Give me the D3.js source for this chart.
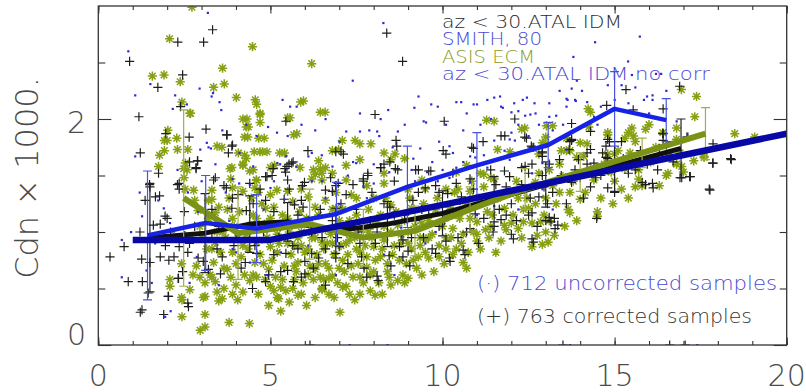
<!DOCTYPE html>
<html>
<head>
<meta charset="utf-8">
<script src="https://cdn.jsdelivr.net/npm/d3@7"></script>
<style>
  body { margin: 0; background: #fff; }
  svg { display: block; }
  text { font-family: "DejaVu Sans", "Liberation Sans", sans-serif; font-weight: 200; }
</style>
</head>
<body>
<svg id="chart" width="806" height="392"></svg>
<script>
// Drag coefficient (Cdn x 1000) against wind speed: scatter of samples and binned means.

// Black "+" : corrected samples, az < 30, ATAL IDM
const corrSamples = [
  [0.91,2.51],[1.18,2.02],[1.22,1.70],[1.73,2.28],[1.96,1.87],[1.75,1.52],[2.31,2.68],[2.45,2.39],[2.39,2.11],[2.64,1.84],
  [3.06,2.68],[3.32,2.79],[3.13,1.91],[3.74,1.86],[3.88,1.76],[3.78,1.70],[2.89,1.63],[2.84,1.56],[1.49,1.42],[2.35,1.43],
  [3.35,1.46],[3.72,1.39],[4.9,1.49],[5.45,1.98],[5.62,1.61],[5.48,1.58],
  [8.38,2.76],[8.84,2.51],[8.04,2.04],[10.05,1.98],[6.09,1.72],[8.65,1.81],[8.67,1.76],[10.02,1.72],[10.1,1.69],[10.85,1.75],
  [11.18,1.80],[11.81,1.85],[12.1,2.0],[12.44,1.83],[12.65,1.75],[12.9,1.71],[13.75,1.81],[13.68,1.73],[5.54,1.60],[8.21,1.57],
  [8.3,1.6],[8.63,1.56],[9.3,1.55],[9.6,1.54],[7.83,1.52],[7.7,1.47],[7.05,1.71],[7.12,1.69],[11.8,1.54],[12.3,1.57],
  [12.5,1.52],[12.9,1.50],[10.8,1.47],[6.9,1.41],[5.99,1.44],[5.08,1.56],[5.44,1.53],
  [15.33,2.26],[14.77,2.12],[15.54,2.08],[16.41,2.09],[16.89,2.29],[12.39,1.84],[12.58,1.76],[13.75,1.96],[13.7,1.80],[14.3,1.73],
  [14.85,1.80],[14.8,1.65],[16.41,1.87],[16.41,1.81],[17.13,1.84],[17.86,1.78],[17.86,1.61],[18.39,1.64],[17.77,1.37],[16.12,1.39],
  [15.9,1.42],[17.18,1.49],[16.95,1.48],[16.5,1.77],[13.4,1.64],[12.9,1.70],[12.6,1.6],[14.2,1.6],[14.6,1.5],[14.0,1.48],
  [1.5,1.40],[1.36,1.28],[1.66,1.31],[1.94,1.14],[2.0,1.12],[1.6,1.06],[1.21,1.0],[0.75,0.87],[0.34,0.78],[1.26,0.76],
  [1.8,0.78],[1.5,0.73],[2.05,0.75],[2.2,0.78],[2.32,0.59],[0.87,0.56],[1.28,0.56],[1.45,0.46],[2.03,0.43],[2.6,0.37],
  [2.3,1.42],[2.35,1.38],[2.65,1.62],[2.88,1.63],[2.84,1.57],[2.6,0.82],[2.35,0.87],[2.9,0.77],[2.65,0.90],[3.05,0.74],[3.2,0.67],
  [1.22,0.29],[1.27,0.31],[1.9,0.27],[2.04,0.43],[2.62,0.34],[2.33,0.59],[1.8,1.07],[1.78,1.32],
  [3.73,1.86],[3.9,1.77],[5.66,1.62],[5.42,1.56],[3.4,1.48],[4.86,1.49],[5.05,1.50],[5.5,1.46],[5.93,1.41],[3.65,1.41],
  [4.06,1.33],[4.4,1.43],[4.86,1.28],[5.4,1.29],[5.7,1.24],[5.95,1.22],[3.88,1.21],[4.3,1.19],[6.6,1.37],[5.65,0.88],
  [5.45,0.81],[5.1,0.80],[4.6,0.81],[4.27,0.73],[3.94,0.88],[3.45,0.85],[5.5,0.66],[6.0,0.63],[3.55,0.63],[4.86,0.56],
  [5.67,0.56],[4.48,0.50],[6.2,0.81],[6.4,0.77],[6.0,0.74],
  [6.9,1.71],[8.47,1.62],[8.2,1.57],[8.7,1.55],[9.22,1.55],[9.66,1.54],[7.83,1.50],[7.7,1.45],[6.97,1.43],[9.5,1.39],
  [9.8,1.41],[8.47,1.22],[9.14,1.28],[6.8,1.36],[7.2,1.33],[8.8,0.98],[8.85,0.93],[8.75,0.87],[9.0,0.83],[9.7,0.85],
  [7.0,0.87],[7.6,0.90],[7.72,0.68],[8.1,0.61],[6.9,0.77],[8.45,0.79],[9.22,1.10],
  [11.7,1.85],[10.9,1.74],[12.6,1.75],[12.9,1.67],[12.4,1.58],[13.1,1.60],[11.95,1.49],[11.55,1.42],[10.4,1.43],[10.15,1.34],
  [10.55,1.31],[12.0,1.25],[12.8,1.31],[13.05,1.25],[13.25,1.12],[11.2,1.12],[11.5,1.05],[11.7,1.11],[12.5,1.15],[12.0,0.98],
  [12.6,0.94],[13.15,1.09],[10.8,1.03],[10.7,1.0],[10.2,0.77],[10.6,0.84],[10.1,0.92],[10.95,1.16],
  [14.3,1.89],[14.8,1.82],[13.75,1.82],[15.2,1.80],[14.2,1.70],[14.75,1.76],[14.75,1.66],[15.75,1.72],[13.95,1.64],[14.4,1.61],
  [14.8,1.55],[15.4,1.52],[13.75,1.44],[14.3,1.40],[14.8,1.39],[15.8,1.44],[16.1,1.43],[13.35,1.06],[16.4,1.87],[16.3,1.74],
  [16.9,1.48],[17.2,1.49],[17.85,1.61],[18.37,1.65],[17.75,1.38],[17.1,1.84],
  [11.47,1.0],[12.06,0.94],[10.22,0.74],[10.65,0.80],[9.8,0.81],[8.85,0.78],[8.13,0.57],[7.8,0.60],[5.3,0.65],[5.9,0.60],
  [6.6,0.53],[13.0,1.10],[12.64,0.91],[13.27,1.03],[14.48,1.12],[11.85,1.15],[12.6,1.17],[13.1,1.13],
  [6.15,0.0],[13.5,0.0],[16.6,0.0],[17.05,0.0],
  [3.5,1.05],[4.0,0.95],[4.8,1.0],[5.3,1.05],[6.2,1.0],[6.5,0.95],[7.3,1.05],[7.9,1.1],[8.6,1.15],[9.4,1.2],
  [9.9,1.05],[4.5,1.25],[5.8,1.15],[7.5,1.2],[8.1,1.0],[6.8,1.1],[3.3,0.95],[9.1,0.95],
  [3.3,1.2],[3.6,0.78],[3.9,1.3],[4.15,0.68],[4.35,1.05],[4.55,0.88],[4.7,1.38],[4.95,0.62],[5.1,1.18],[5.25,0.95],
  [5.55,1.38],[5.8,0.85],[5.9,1.28],[6.1,1.1],[6.25,0.68],[6.45,1.2],[6.6,0.85],[6.75,1.48],[6.95,0.95],[7.05,1.25],
  [7.25,0.72],[7.4,1.42],[7.55,1.0],[7.65,0.78],[7.95,1.35],[8.05,0.9],[8.3,1.25],[8.5,0.7],[8.6,1.45],[8.9,1.15],
  [9.05,0.7],[9.3,1.35],[9.45,0.95],[9.6,1.2],[9.9,1.35],[10.05,1.1],[10.3,1.52],[10.45,0.95],[10.65,1.2],[10.9,1.38],
  [11.05,0.9],[11.3,1.3],[11.4,1.55],[11.65,1.2],[11.85,1.4],[12.15,1.1],[12.3,1.42],[12.55,1.3],[12.75,1.05],[12.95,1.4],
  [13.2,1.35],[13.45,1.5],[13.6,1.25],[13.85,1.55],[14.1,1.3],[14.45,1.48],[14.65,1.7],[15.0,1.35],[15.25,1.65],[15.6,1.55],
  [15.95,1.6],[16.25,1.55],[16.7,1.62],[2.1,1.0],[2.5,1.18],[2.8,1.05],[1.95,0.88],[2.45,0.65]
];

// Olive "*" : ASIS ECM samples
const ecmSamples = [
  [2.07,2.71],[2.72,2.99],[4.48,2.64],[1.57,2.38],[1.91,2.39],[2.38,2.33],[3.61,2.45],[3.35,2.28],[3.66,2.31],[4.01,2.19],
  [2.43,2.15],[2.68,2.05],[4.56,2.17],[4.6,2.13],[4.70,2.05],[4.32,2.0],[4.36,1.93],[4.70,1.97],[2.02,1.90],[1.92,1.81],
  [2.28,1.83],[1.78,1.68],[4.34,1.84],[4.82,1.83],[3.59,1.75],[4.25,1.68],[4.70,1.71],[4.9,1.71],[5.41,1.70],[5.57,2.01],
  [5.77,1.87],[2.53,1.61],[2.48,1.56],[3.83,1.56],[4.2,1.59],[4.5,1.55],[2.77,1.37],[3.3,1.37],[4.59,1.46],[5.19,1.37],[4.65,1.35],
  [6.2,2.49],[5.96,2.16],[6.59,2.06],[7.46,1.81],[7.92,1.78],[6.98,1.73],[8.62,1.69],[11.28,1.99],[11.5,1.98],[12.39,1.92],
  [13.02,1.94],[11.96,1.71],[11.6,1.73],[10.7,1.59],[6.49,1.52],[6.25,1.55],[5.86,1.57],[5.0,1.57],[7.2,1.59],[7.6,1.64],
  [8.3,1.52],[8.9,1.65],[9.4,1.46],[10.45,1.38],[11.1,1.52],[11.4,1.48],[13.6,1.83],[13.7,1.72],[12.8,1.69],[13.9,1.66],
  [16.94,2.26],[17.38,2.20],[17.33,2.02],[14.23,2.09],[14.8,1.88],[15.4,1.88],[15.6,1.80],[15.9,1.91],[16.4,1.88],[16.8,1.82],
  [18.49,1.87],[19.07,1.84],[17.6,1.66],[17.3,1.63],[16.5,1.50],[17.0,1.53],[15.7,1.47],[16.3,1.41],[15.6,1.40],[12.3,1.91],
  [13.2,1.94],[13.0,1.78],[13.6,1.72],[14.1,1.67],[14.2,1.78],[14.8,1.69],[15.1,1.72],[14.9,1.53],[15.3,1.56],
  [2.66,2.05],[2.0,1.81],[1.92,1.72],[2.3,1.73],[2.6,1.73],[1.75,1.58],[2.58,1.55],[2.49,1.48],[2.52,1.38],[2.8,1.28],
  [2.9,1.19],[3.2,1.28],[2.08,0.58],[2.08,0.52],[2.42,0.42],[2.66,0.49],[3.1,0.55],[3.1,0.43],[2.85,0.70],[2.42,0.72],[3.3,0.85],
  [2.43,0.40],[2.43,0.25],[2.96,0.13],[3.1,0.16],[3.1,0.27],[3.8,0.20],[4.39,0.19],[3.6,0.41],[3.05,0.42],[5.24,0.41],
  [4.7,2.04],[5.88,2.15],[4.2,2.0],[4.3,1.93],[5.5,2.01],[5.68,1.86],[6.45,2.06],[4.25,1.84],[4.66,1.83],[3.45,1.76],
  [4.07,1.70],[4.53,1.71],[4.77,1.71],[5.27,1.70],[4.3,1.65],[3.88,1.57],[4.2,1.60],[5.12,1.59],[6.4,1.63],[6.3,1.51],
  [4.4,1.54],[4.6,1.46],[3.85,1.47],[5.9,1.38],[6.2,1.47],[6.45,1.56],[3.3,1.29],[3.9,1.39],[4.2,1.36],[4.55,1.39],
  [5.0,1.33],[5.5,1.36],[6.1,1.31],[6.3,1.22],[3.4,1.17],[4.86,1.21],[3.4,0.91],[3.9,0.82],[4.2,0.88],[4.6,0.91],
  [5.0,0.87],[5.7,0.88],[6.1,0.85],[6.5,0.91],[3.35,0.73],[3.75,0.67],[4.55,0.73],[4.95,0.67],[5.8,0.73],[6.3,0.67],
  [3.4,0.56],[4.0,0.53],[4.2,0.47],[5.0,0.52],[5.2,0.42],[5.9,0.45],[6.5,0.50],[3.5,0.39],[4.4,0.57],[5.7,0.58],[6.25,0.58],
  [7.09,1.81],[7.6,1.78],[6.8,1.72],[8.3,1.70],[8.5,1.64],[6.6,1.57],[6.8,1.52],[6.5,1.46],[7.2,1.46],[7.8,1.41],
  [8.3,1.43],[9.0,1.38],[9.5,1.38],[7.35,1.33],[8.0,1.30],[8.5,1.24],[9.1,1.21],[6.9,1.21],[7.5,1.15],[6.8,0.90],
  [7.3,0.93],[8.0,0.87],[8.3,0.93],[9.0,0.90],[9.5,0.93],[9.3,0.78],[9.6,0.77],[6.6,0.72],[7.1,0.75],[7.8,0.69],
  [8.4,0.72],[8.85,0.62],[6.8,0.61],[7.2,0.52],[7.9,0.48],[6.5,0.50],[6.7,0.59],
  [13.0,1.84],[12.9,1.79],[10.4,1.53],[11.2,1.51],[11.5,1.47],[12.7,1.44],[13.2,1.41],[10.1,1.38],[10.8,1.36],[12.2,1.30],
  [11.3,1.18],[11.8,1.21],[12.5,1.21],[13.0,1.30],[10.1,1.15],[10.3,1.03],[11.0,1.09],[11.25,1.02],[11.8,1.06],[12.35,1.09],
  [12.85,1.09],[13.0,1.0],[11.0,0.92],[12.75,0.97],[10.1,0.85],[10.6,0.73],
  [14.3,2.06],[16.0,1.95],[15.5,1.92],[14.25,1.93],[13.45,1.72],[14.0,1.79],[14.8,1.86],[15.3,1.83],[15.55,1.85],[15.0,1.69],
  [14.1,1.52],[13.5,1.49],[14.4,1.46],[15.0,1.45],[15.2,1.38],[13.7,1.35],[14.0,1.29],[13.65,1.20],[14.5,1.18],[16.55,1.52],[15.8,1.41],
  [16.8,1.92],[17.6,1.67],[16.8,1.60],[16.95,1.58],
  [7.02,0.29],[8.04,0.44],[9.0,0.59],[10.7,0.68],[8.5,0.53],[5.8,0.44],[6.5,0.49],[7.1,0.51],[5.3,0.51],[12.9,0.89],
  [12.6,0.87],[13.07,0.91],[13.7,1.17],[14.5,1.14],[12.2,1.03],[11.85,1.02],[13.25,0.97],
  [3.6,1.0],[4.4,1.05],[5.2,0.98],[5.9,1.0],[6.6,1.02],[7.2,1.0],[7.9,1.05],[8.7,1.06],[9.4,1.08],[3.9,1.12],
  [5.5,1.12],[7.0,1.1],[8.2,1.15],[9.8,1.2],[4.9,0.95],[6.3,0.95],[7.6,0.82],[8.8,0.98],
  [3.2,1.12],[3.5,1.22],[3.7,0.95],[3.8,1.3],[3.95,1.05],[4.1,1.18],[4.15,0.78],[4.3,0.98],[4.45,1.3],[4.5,0.62],
  [4.6,1.12],[4.7,0.8],[4.75,1.25],[4.85,0.58],[4.9,1.08],[5.05,0.75],[5.1,1.22],[5.15,0.6],[5.25,0.9],[5.35,1.15],
  [5.4,0.7],[5.45,0.48],[5.55,1.0],[5.6,0.8],[5.65,1.27],[5.75,0.65],[5.8,0.95],[5.85,1.18],[5.95,0.55],[6.0,0.82],
  [6.05,1.12],[6.15,0.7],[6.2,0.95],[6.35,0.8],[6.4,1.15],[6.45,0.6],[6.55,0.85],[6.6,1.28],[6.7,0.68],[6.75,0.98],
  [6.85,0.8],[6.9,1.35],[6.95,0.55],[7.05,0.88],[7.1,1.2],[7.15,0.65],[7.25,0.8],[7.3,1.1],[7.4,0.6],[7.45,0.95],
  [7.5,1.3],[7.55,0.72],[7.65,1.02],[7.7,0.55],[7.75,0.88],[7.85,1.2],[7.9,0.62],[7.95,0.95],[8.05,0.75],[8.1,1.08],
  [8.15,0.55],[8.25,0.85],[8.35,1.3],[8.4,0.65],[8.5,1.0],[8.55,0.8],[8.65,1.18],[8.7,0.57],[8.8,0.9],[8.9,1.1],
  [8.95,0.72],[9.05,1.3],[9.1,0.85],[9.2,1.05],[9.25,0.68],[9.35,0.95],[9.45,1.25],[9.5,0.82],[9.6,1.1],[9.7,0.98],
  [9.75,0.65],[9.85,1.3],[9.9,0.88],[10.0,1.05],[10.05,0.72],[10.2,1.22],[10.25,0.95],[10.35,1.35],[10.4,0.85],[10.5,1.12],
  [10.6,0.98],[10.7,1.25],[10.75,0.82],[10.85,1.45],[10.9,1.0],[11.05,1.3],[11.1,0.85],[11.2,1.4],[11.35,0.95],[11.45,1.15],
  [11.6,1.3],[11.7,0.92],[11.9,1.35],[12.05,1.15],[12.15,1.45],[12.3,0.95],[12.45,1.3],[12.6,1.08],[12.8,1.52],[12.95,1.15],
  [13.1,1.55],[13.3,1.25],[13.4,1.6],[13.55,1.05],[13.8,1.45],[13.9,1.1],[14.15,1.35],[14.3,1.55],[14.6,1.3],[14.7,1.6],
  [14.95,1.25],[15.1,1.6],[15.4,1.3],[15.45,1.7],[15.7,1.55],[16.05,1.62],[16.2,1.75],[16.6,1.68],[16.9,1.7],[3.0,0.95],
  [3.25,0.62],[3.55,0.82],[3.65,0.5],[3.85,0.6],[4.05,0.4],[4.25,0.62],[4.65,0.45],[4.95,0.35],[5.3,0.3],[5.55,0.38],
  [6.05,0.35],[6.3,0.42],[6.85,0.42],[7.45,0.4],[7.6,0.45],[8.25,0.45],[2.7,0.95],[2.95,1.05],[3.15,0.85],[2.75,0.62],[3.45,0.47],
  [3.45,1.0],[3.75,1.2],[4.0,0.72],[4.35,0.85],[4.5,1.15],[4.8,0.72],[5.0,1.12],[5.2,0.82],[5.35,0.58],[5.5,0.9],
  [5.7,0.7],[5.9,0.88],[6.1,0.62],[6.25,1.05],[6.4,0.72],[6.55,0.58],[6.65,0.9],[6.8,1.2],[7.0,0.68],[7.2,0.9],
  [7.35,0.7],[7.5,0.85],[7.6,0.6],[7.8,0.78],[7.85,1.0],[8.0,0.65],[8.2,0.78],[8.3,1.05],[8.45,0.6],[8.6,0.88],
  [8.75,0.75],[8.9,0.55],[9.0,1.0],[9.15,0.75],[9.35,0.88],[9.4,0.62],[9.6,0.95],[9.9,0.78],[10.1,0.95],[10.3,0.8],
  [10.55,0.9],[10.8,1.12],[11.0,0.98],[11.4,1.05],[11.55,0.82],[12.0,1.08],[12.35,1.2],[12.7,1.25],[13.1,1.1],[13.4,1.35],
  [4.05,0.95],[4.6,0.6],[5.1,0.48],[5.65,0.5],[6.7,0.45],[7.3,0.45],[3.3,0.6],[3.65,0.68],[2.95,0.6],[3.9,0.45]
];

// Blue "." : uncorrected samples, az < 30, ATAL IDM
const uncorrSamples = [
  [0.87,2.60],[3.18,2.94],[1.07,2.21],[1.51,2.31],[2.16,2.09],[2.94,2.27],[3.33,2.23],[3.52,2.15],[3.57,2.08],[2.96,1.73],
  [3.2,1.75],[3.27,1.74],[1.07,1.67],[5.19,1.88],[5.57,2.11],[4.09,1.43],[5.28,1.6],[2.23,2.21],[2.57,2.13],
  [8.28,2.85],[7.39,2.34],[5.76,2.11],[8.42,2.08],[9.18,2.10],[9.86,2.11],[10.54,2.15],[11.0,2.13],[11.3,2.17],[11.67,2.2],
  [11.75,2.1],[12.08,2.14],[12.7,2.05],[13.3,2.03],[13.85,2.17],[13.8,2.55],[7.87,1.90],[8.16,1.85],[9.52,1.97],[10.2,1.76],
  [7.49,1.61],[6.49,1.68],[6.1,1.67],[5.45,1.67],[7.2,1.89],[8.7,1.89],[10.8,1.67],[11.95,1.64],[12.9,1.61],[13.6,1.73],
  [9.86,1.45],[6.5,1.45],
  [15.73,2.73],[14.43,2.68],[15.39,2.51],[12.33,2.17],[12.67,2.14],[13.63,2.17],[13.87,2.16],[12.4,2.03],[13.1,2.02],[13.1,2.14],
  [15.94,2.2],[16.1,2.17],[15.0,2.17],[12.0,2.06],[12.0,1.88],
  [3.15,1.79],[1.74,1.28],[1.9,1.21],[2.08,1.08],[0.68,0.93],[0.68,0.60],[2.86,0.78],[1.27,1.14],[2.9,1.18],
  [3.29,2.20],[4.93,1.93],[5.35,2.17],[6.2,1.70],[5.75,1.58],[5.2,1.61],[4.5,1.58],[3.9,1.47],[3.7,1.35],[4.4,1.42],
  [6.2,1.45],[5.0,1.39],[5.4,1.29],[3.9,0.85],[4.0,0.82],[4.75,0.91],[6.1,0.88],[3.5,0.53],[4.4,0.73],[5.3,0.82],
  [9.67,2.13],[9.45,1.98],[7.6,1.89],[8.1,1.89],[7.4,1.62],[9.35,1.74],[9.15,1.65],[9.55,1.53],[9.7,1.62],[8.45,1.53],
  [8.0,1.43],[8.9,1.38],[6.9,1.44],[6.6,1.3],[8.8,1.04],[8.3,0.80],[9.5,0.90],[7.1,1.04],
  [10.4,2.15],[10.9,2.13],[11.5,2.19],[12.45,2.19],[11.7,2.11],[12.55,2.04],[12.2,2.07],[11.95,1.82],[12.1,1.81],[11.5,1.81],
  [10.95,1.66],[10.4,1.57],[10.2,1.48],[10.8,1.44],[11.3,1.57],[12.6,1.52],[12.9,1.38],[12.0,1.38],[12.4,1.35],[11.5,1.23],[10.5,1.25],
  [15.5,2.39],[16.2,2.40],[13.75,2.27],[13.6,2.18],[14.05,2.25],[13.9,2.34],[16.35,2.40],[16.1,2.21],[15.85,2.17],[15.4,2.14],
  [14.6,2.11],[14.4,2.02],[13.6,2.11],
  [7.3,0.0],[8.4,0.0],[13.7,0.0],[17.4,0.0],[1.94,0.25],[2.1,0.3],[1.4,0.66],[1.65,0.9],
  [8.6,1.36],[9.2,1.45],[10.0,1.55],[10.6,1.62],[11.2,1.68],[7.8,1.3],[7.0,1.25],
  [2.3,1.55],[2.6,1.35],[3.0,1.45],[3.4,1.6],[3.6,1.9],[4.1,1.7],[4.3,1.95],[4.6,1.85],[4.8,1.2],[5.1,1.45],
  [5.5,1.85],[5.9,1.95],[6.3,1.9],[6.6,2.0],[6.8,1.58],[7.0,1.8],[7.25,1.5],[7.6,2.05],[7.7,1.4],[8.0,1.6],
  [8.2,2.0],[8.55,1.75],[8.9,1.95],[9.1,1.55],[9.3,2.2],[9.9,1.8],[10.1,1.95],[10.3,1.7],[10.6,1.9],[10.7,2.05],
  [11.1,1.95],[11.4,2.0],[11.8,1.72],[12.2,1.95],[12.5,1.85],[12.8,1.95],[13.2,1.9],[13.4,2.25],[13.5,1.95],[14.2,2.15],
  [14.5,1.95],[14.8,2.3],[15.2,2.3],[15.6,2.28],[16.0,2.05],[16.5,2.25],[16.8,1.98],[3.8,1.1],[5.6,1.1],[6.4,1.15],
  [2.5,1.0],[1.2,1.35],[0.95,1.0],[1.55,0.55],[2.65,0.55],[4.9,0.62],[6.9,0.62],[8.6,0.62],[9.8,1.0],[11.0,1.15],
  [12.2,1.2],[13.2,1.2]
];

// Binned means with one-sigma bars
const corrU   = [1.5, 3.1, 4.4, 5.5, 6.9, 8.4, 10.0, 11.5, 13.0, 15.0, 16.93];
const corrCd  = [0.95, 0.99, 1.07, 1.09, 1.01, 1.07, 1.165, 1.29, 1.42, 1.58, 1.74];
const corrErr = [0.48, 0.35, 0.25, 0.17, 0.2, 0.2, 0.2, 0.2, 0.2, 0.22, 0.26];

const ecmU   = [2.48, 4.06, 6.14, 7.7, 9.2, 10.8, 12.4, 14.0, 15.8, 17.64];
const ecmCd  = [1.30, 0.99, 1.07, 0.95, 1.01, 1.20, 1.38, 1.53, 1.70, 1.87];
const ecmErr = [0.78, 0.41, 0.31, 0.25, 0.22, 0.2, 0.18, 0.17, 0.13, 0.23];

const uncorrU   = [1.43, 3.12, 4.6, 6.92, 8.98, 11.0, 13.07, 15.0, 16.5];
const uncorrCd  = [0.97, 1.08, 1.03, 1.16, 1.40, 1.59, 1.77, 2.09, 1.99];
const uncorrErr = [0.57, 0.42, 0.30, 0.28, 0.36, 0.29, 0.20, 0.33, 0.19];

// Smith (1980) neutral drag coefficient
const smithU  = [1.0, 5.0, 10.0, 15.0, 20.0];
const smithCd = [0.93, 0.93, 1.24, 1.555, 1.87];

// Axis ticks
const xMajor = [0, 5, 10, 15, 20];
const xMinor = d3.range(0, 21, 1);
const yMajor = [0, 2];
const yMinor = [0.5, 1.0, 1.5, 2.5];
const xTickLabels = ["0", "5", "10", "15", "20"];
const yTickLabels = ["0", "2"];

const legendTop = [
  { text: "az < 30.ATAL IDM", color: "#2a2a2a", width: 180 },
  { text: "SMITH, 80", color: "#4848d4", width: 100 },
  { text: "ASIS ECM", color: "#8c9b26", width: 93 },
  { text: "az < 30.ATAL IDM no corr", color: "#4848d4", width: 268 }
];
const countNotes = [
  { text: "(\u00b7) 712 uncorrected samples", color: "#4848d4", width: 300 },
  { text: "(+) 763 corrected samples", color: "#333333", width: 275 }
];

const svg = d3.select("#chart");
const x = d3.scaleLinear().domain([0, 20]).range([98.3, 786.7]);
const y = d3.scaleLinear().domain([0, 3]).range([345, 6]);
const [x0, x1] = x.range();
const [yb, yt] = y.range();

svg.append("defs").append("clipPath").attr("id", "plotClip")
  .append("rect").attr("x", x0).attr("y", yt).attr("width", x1 - x0).attr("height", yb - yt);

const plot = svg.append("g").attr("clip-path", "url(#plotClip)");

// scatter
const asterisk = "M-4.6,0H4.6M0,-4.6V4.6M-3.3,-3.3L3.3,3.3M-3.3,3.3L3.3,-3.3";
const plus = "M-4.6,0H4.6M0,-4.6V4.6";

plot.append("g").selectAll("path").data(ecmSamples).join("path")
  .attr("d", asterisk)
  .attr("transform", d => `translate(${x(d[0])},${y(d[1])})`)
  .attr("stroke", "#86a014").attr("stroke-width", 1.5).attr("fill", "none");

plot.append("g").selectAll("path").data(corrSamples).join("path")
  .attr("d", plus)
  .attr("transform", d => `translate(${x(d[0])},${y(d[1])})`)
  .attr("stroke", "#1e1e1e").attr("stroke-width", 1.2).attr("fill", "none");

plot.append("g").selectAll("rect").data(uncorrSamples).join("rect")
  .attr("x", d => x(d[0]) - 1).attr("y", d => y(d[1]) - 1)
  .attr("width", 2.2).attr("height", 2.2).attr("fill", "#2a2ad8");

// binned means with error bars
function series(us, cds, errs, lineColor, lineWidth, barColor) {
  const g = plot.append("g");
  if (errs) {
    const pts = us.map((u, i) => ({ u, c: cds[i], e: errs[i] }));
    const bars = g.append("g").attr("stroke", barColor).attr("stroke-width", 1.2).attr("fill", "none");
    bars.selectAll("path").data(pts).join("path")
      .attr("d", d => {
        const px = x(d.u), ya = y(d.c + d.e), yz = y(d.c - d.e);
        return `M${px},${ya}V${yz}M${px - 4.5},${ya}H${px + 4.5}M${px - 4.5},${yz}H${px + 4.5}`;
      });
  }
  const line = d3.line().x((d, i) => x(us[i])).y(d => y(d));
  g.append("path").attr("d", line(cds))
    .attr("fill", "none").attr("stroke", lineColor).attr("stroke-width", lineWidth)
    .attr("stroke-linejoin", "round");
}

series(corrU, corrCd, corrErr, "#111111", 5, "#222222");
series(ecmU, ecmCd, ecmErr, "#7a9216", 6, "#a2ad48");
series(uncorrU, uncorrCd, uncorrErr, "#1622e6", 4.5, "#4a52dc");
series(smithU, smithCd, null, "#0808a6", 6.5, null);

// frame and ticks
const axisColor = "#333";
svg.append("rect").attr("x", x0).attr("y", yt).attr("width", x1 - x0).attr("height", yb - yt)
  .attr("fill", "none").attr("stroke", axisColor).attr("stroke-width", 1.3);

function ticks(axis, transform) {
  const g = svg.append("g").attr("transform", transform).call(axis);
  g.select(".domain").remove();
  g.selectAll("text").remove();
  g.selectAll("line").attr("stroke", axisColor).attr("stroke-width", 1.1);
}
ticks(d3.axisBottom(x).tickValues(xMinor).tickSize(-4), `translate(0,${yb})`);
ticks(d3.axisBottom(x).tickValues(xMajor).tickSize(-7.5), `translate(0,${yb})`);
ticks(d3.axisTop(x).tickValues(xMinor).tickSize(-4), `translate(0,${yt})`);
ticks(d3.axisTop(x).tickValues(xMajor).tickSize(-7.5), `translate(0,${yt})`);
ticks(d3.axisLeft(y).tickValues(yMinor).tickSize(-7), `translate(${x0},0)`);
ticks(d3.axisLeft(y).tickValues(yMajor).tickSize(-13), `translate(${x0},0)`);
ticks(d3.axisRight(y).tickValues(yMinor).tickSize(-7), `translate(${x1},0)`);
ticks(d3.axisRight(y).tickValues(yMajor).tickSize(-13), `translate(${x1},0)`);

// tick labels
const labelColor = "#4a4a4a";
svg.append("g").selectAll("text").data(xMajor).join("text")
  .attr("x", d => x(d)).attr("y", 386)
  .attr("text-anchor", "middle").attr("font-size", 30).attr("fill", labelColor)
  .text((d, i) => xTickLabels[i]);

svg.append("g").selectAll("text").data(yMajor).join("text")
  .attr("x", 86).attr("y", d => Math.min(y(d) + 14, yb))
  .attr("text-anchor", "end").attr("font-size", 30).attr("fill", labelColor)
  .text((d, i) => yTickLabels[i]);

// axis title
svg.append("text")
  .attr("transform", "translate(38,178) rotate(-90)")
  .attr("text-anchor", "middle").attr("font-size", 32).attr("fill", labelColor)
  .text("Cdn \u00d7 1000.");

// legend
svg.append("g").selectAll("text").data(legendTop).join("text")
  .attr("x", 442).attr("y", (d, i) => 28 + i * 17.4)
  .attr("font-size", 17).attr("fill", d => d.color)
  .attr("textLength", d => d.width).attr("lengthAdjust", "spacingAndGlyphs")
  .text(d => d.text);

svg.append("g").selectAll("text").data(countNotes).join("text")
  .attr("x", 477).attr("y", (d, i) => 290 + i * 33.3)
  .attr("font-size", 20).attr("fill", d => d.color)
  .attr("textLength", d => d.width).attr("lengthAdjust", "spacingAndGlyphs")
  .text(d => d.text);
</script>
</body>
</html>
